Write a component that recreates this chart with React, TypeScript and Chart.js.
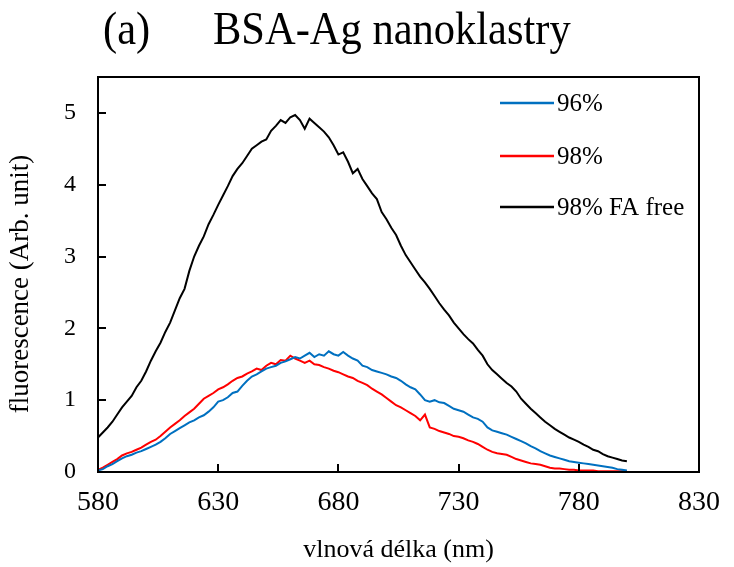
import React, { useEffect, useRef } from "react";
import { Chart, registerables } from "chart.js";

Chart.register(...registerables);

const TITLE_TAG = "(a)";
const TITLE_TEXT = "BSA-Ag nanoklastry";
const X_TITLE = "vlnová délka (nm)";
const Y_TITLE = "fluorescence (Arb. unit)";
const X_TICKS = [580, 630, 680, 730, 780, 830];
const Y_TICKS = [0, 1, 2, 3, 4, 5];

const SERIES_LABELS = ["96%", "98%", "98% FA free"];
const SERIES_COLORS = ["#0070C0", "#FF0000", "#000000"];

// wavelengths 580..800 nm, 2 nm step
const wavelength: number[] = [
  580, 582, 584, 586, 588, 590, 592, 594, 596, 598,
  600, 602, 604, 606, 608, 610, 612, 614, 616, 618,
  620, 622, 624, 626, 628, 630, 632, 634, 636, 638,
  640, 642, 644, 646, 648, 650, 652, 654, 656, 658,
  660, 662, 664, 666, 668, 670, 672, 674, 676, 678,
  680, 682, 684, 686, 688, 690, 692, 694, 696, 698,
  700, 702, 704, 706, 708, 710, 712, 714, 716, 718,
  720, 722, 724, 726, 728, 730, 732, 734, 736, 738,
  740, 742, 744, 746, 748, 750, 752, 754, 756, 758,
  760, 762, 764, 766, 768, 770, 772, 774, 776, 778,
  780, 782, 784, 786, 788, 790, 792, 794, 796, 798,
  800,
];

const blue96: number[] = [
  0.02, 0.04, 0.08, 0.11, 0.15, 0.19, 0.22, 0.24, 0.27, 0.29,
  0.32, 0.35, 0.38, 0.42, 0.47, 0.53, 0.57, 0.61, 0.65, 0.69,
  0.72, 0.76, 0.79, 0.84, 0.90, 0.98, 1.00, 1.04, 1.10, 1.12,
  1.20, 1.27, 1.33, 1.36, 1.40, 1.44, 1.46, 1.48, 1.52, 1.54,
  1.57, 1.60, 1.58, 1.62, 1.66, 1.60, 1.64, 1.62, 1.68, 1.64,
  1.62, 1.67, 1.62, 1.58, 1.55, 1.48, 1.46, 1.42, 1.40, 1.38,
  1.36, 1.33, 1.31, 1.27, 1.22, 1.18, 1.15, 1.08, 1.00, 0.98,
  1.00, 0.97, 0.96, 0.92, 0.88, 0.86, 0.84, 0.80, 0.76, 0.74,
  0.70, 0.62, 0.58, 0.56, 0.54, 0.52, 0.49, 0.46, 0.43, 0.40,
  0.36, 0.33, 0.29, 0.26, 0.23, 0.21, 0.19, 0.17, 0.15, 0.14,
  0.13, 0.12, 0.11, 0.10, 0.09, 0.08, 0.07, 0.06, 0.04, 0.03,
  0.02,
];

const red98: number[] = [
  0.03, 0.06, 0.10, 0.14, 0.18, 0.23, 0.26, 0.28, 0.31, 0.34,
  0.38, 0.42, 0.45, 0.50, 0.56, 0.62, 0.67, 0.72, 0.78, 0.83,
  0.88, 0.95, 1.02, 1.06, 1.10, 1.15, 1.18, 1.22, 1.27, 1.31,
  1.33, 1.37, 1.40, 1.44, 1.42, 1.48, 1.52, 1.50, 1.56, 1.55,
  1.62, 1.58, 1.55, 1.52, 1.55, 1.50, 1.49, 1.46, 1.44, 1.41,
  1.39, 1.36, 1.33, 1.31, 1.27, 1.24, 1.21, 1.16, 1.12, 1.08,
  1.03, 0.98, 0.93, 0.90, 0.86, 0.82, 0.78, 0.72, 0.80, 0.62,
  0.60, 0.57, 0.55, 0.53, 0.50, 0.49, 0.47, 0.44, 0.42, 0.39,
  0.35, 0.31, 0.28, 0.26, 0.25, 0.24, 0.21, 0.18, 0.16, 0.14,
  0.12, 0.11, 0.10, 0.08, 0.06, 0.05, 0.05, 0.04, 0.03, 0.03,
  0.02, 0.02, 0.02, 0.02, 0.01, 0.01, 0.01, 0.01, 0.01, 0.01,
  0.01,
];

const black98FA: number[] = [
  0.48, 0.55, 0.62, 0.70, 0.80, 0.90, 0.98, 1.06, 1.18, 1.27,
  1.40, 1.55, 1.68, 1.80, 1.95, 2.08, 2.25, 2.42, 2.55, 2.80,
  3.00, 3.15, 3.28, 3.45, 3.58, 3.72, 3.85, 3.98, 4.12, 4.22,
  4.30, 4.40, 4.50, 4.55, 4.60, 4.63, 4.75, 4.82, 4.90, 4.86,
  4.94, 4.97, 4.90, 4.78, 4.92, 4.86, 4.80, 4.74, 4.66, 4.55,
  4.42, 4.45, 4.32, 4.16, 4.22, 4.08, 3.98, 3.88, 3.80, 3.62,
  3.52, 3.40, 3.30, 3.15, 3.02, 2.92, 2.82, 2.72, 2.64, 2.55,
  2.45, 2.35, 2.26, 2.18, 2.08, 2.00, 1.92, 1.85, 1.79, 1.70,
  1.62, 1.50, 1.42, 1.36, 1.30, 1.24, 1.19, 1.12, 1.02, 0.95,
  0.88, 0.82, 0.76, 0.70, 0.65, 0.60, 0.56, 0.52, 0.48, 0.45,
  0.42, 0.38, 0.35, 0.31, 0.29, 0.25, 0.22, 0.20, 0.18, 0.16,
  0.15,
];

const SERIF = '"Liberation Serif", "Times New Roman", serif';

const toPoints = (ys: number[]) => wavelength.map((x, i) => ({ x, y: ys[i] }));

const framePlugin = {
  id: "frame",
  afterDatasetsDraw(chart: any) {
    const { ctx, chartArea: a, scales } = chart;
    ctx.save();
    ctx.strokeStyle = "#000";
    ctx.lineWidth = 2;
    // inward ticks
    ctx.beginPath();
    X_TICKS.forEach((v) => {
      const px = Math.round(scales.x.getPixelForValue(v));
      ctx.moveTo(px, a.bottom);
      ctx.lineTo(px, a.bottom - 8);
    });
    Y_TICKS.forEach((v) => {
      const py = Math.round(scales.y.getPixelForValue(v));
      ctx.moveTo(a.left, py);
      ctx.lineTo(a.left + 8, py);
    });
    ctx.stroke();
    ctx.strokeRect(a.left, a.top, a.right - a.left, a.bottom - a.top);
    ctx.restore();
  },
  afterDraw(chart: any) {
    const { ctx } = chart;
    ctx.save();
    // title (slightly tall glyphs as in the reference)
    ctx.fillStyle = "#000";
    ctx.font = `42.5px ${SERIF}`;
    ctx.textBaseline = "alphabetic";
    ctx.textAlign = "left";
    ctx.save();
    ctx.translate(0, 44);
    ctx.scale(1, 1.08);
    ctx.fillText(TITLE_TAG, 103, 0);
    ctx.fillText(TITLE_TEXT, 213, 0);
    ctx.restore();
    // y axis title
    ctx.save();
    ctx.font = `27px ${SERIF}`;
    ctx.textAlign = "center";
    ctx.textBaseline = "middle";
    ctx.translate(21, 284);
    ctx.rotate(-Math.PI / 2);
    ctx.fillText(Y_TITLE, 0, 0);
    ctx.restore();
    // legend
    const rows = [103, 156, 207];
    ctx.font = `25px ${SERIF}`;
    ctx.textBaseline = "middle";
    chart.data.datasets.forEach((ds: any, i: number) => {
      const y = rows[i];
      ctx.strokeStyle = ds.borderColor;
      ctx.lineWidth = 2.5;
      ctx.beginPath();
      ctx.moveTo(500, y);
      ctx.lineTo(554, y);
      ctx.stroke();
      ctx.fillStyle = "#000";
      ctx.fillText(ds.label, 557, y + 1);
    });
    ctx.restore();
  },
};

export default function App() {
  const ref = useRef<HTMLCanvasElement | null>(null);

  useEffect(() => {
    document.body.style.margin = "0";
    const canvas = ref.current!;
    const seriesData = [blue96, red98, black98FA];
    const chart = new Chart(canvas, {
      type: "line",
      data: {
        datasets: seriesData.map((ys, i) => ({
          label: SERIES_LABELS[i],
          data: toPoints(ys),
          borderColor: SERIES_COLORS[i],
          backgroundColor: SERIES_COLORS[i],
          borderWidth: 2,
          pointRadius: 0,
          tension: 0,
          fill: false,
        })),
      },
      options: {
        animation: false,
        responsive: false,
        devicePixelRatio: 1,
        layout: { padding: { left: 0, top: 77, right: 24, bottom: 0 } },
        plugins: {
          legend: { display: false },
          title: { display: false },
          tooltip: { enabled: false },
        },
        scales: {
          x: {
            type: "linear",
            min: 580,
            max: 830,
            afterBuildTicks: (s: any) => {
              s.ticks = X_TICKS.map((v) => ({ value: v }));
            },
            afterFit: (s: any) => {
              s.height = 95;
            },
            grid: { display: false, drawTicks: false },
            border: { display: false },
            ticks: {
              color: "#000",
              font: { family: SERIF, size: 28 },
              padding: 14,
              maxRotation: 0,
              autoSkip: false,
            },
            title: {
              display: true,
              text: X_TITLE,
              color: "#000",
              font: { family: SERIF, size: 26 },
              padding: { top: 0, bottom: 1 },
            },
          },
          y: {
            type: "linear",
            min: 0,
            max: 5.5,
            afterBuildTicks: (s: any) => {
              s.ticks = Y_TICKS.map((v) => ({ value: v }));
            },
            afterFit: (s: any) => {
              s.width = 98;
            },
            grid: { display: false, drawTicks: false },
            border: { display: false },
            ticks: {
              color: "#000",
              font: { family: SERIF, size: 24 },
              padding: 22,
              autoSkip: false,
            },
            title: { display: false },
          },
        },
      },
      plugins: [framePlugin],
    });
    return () => chart.destroy();
  }, []);

  return (
    <div style={{ width: 734, height: 567, background: "#fff" }}>
      <canvas ref={ref} width={734} height={567} style={{ display: "block" }} />
    </div>
  );
}
